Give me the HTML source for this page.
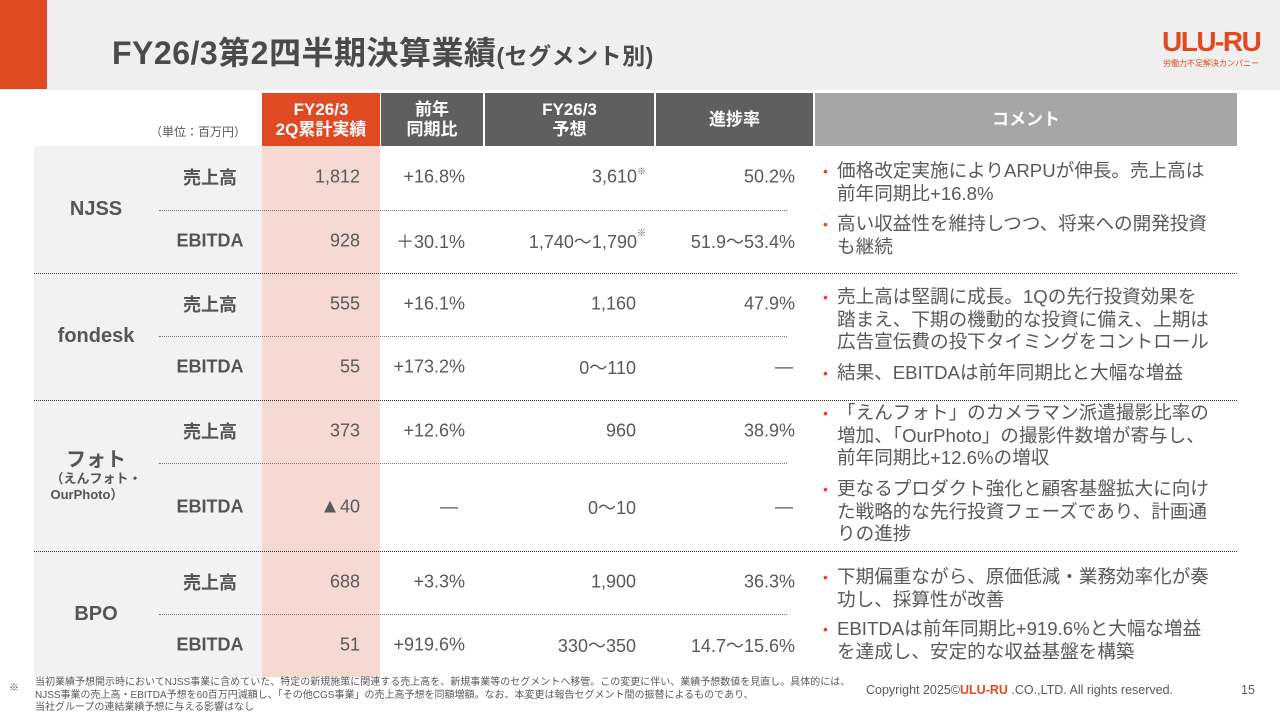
<!DOCTYPE html>
<html><head><meta charset="utf-8">
<style>
*{margin:0;padding:0;box-sizing:border-box}
body{width:1280px;height:720px;position:relative;overflow:hidden;background:#fff;font-family:"Liberation Sans","Noto Sans CJK JP",sans-serif;color:#595959}
.a{position:absolute}
.hd{position:absolute;top:93px;height:53px;color:#fff;font-weight:bold;font-size:17px;line-height:20px;display:flex;align-items:center;justify-content:center;text-align:center}
.seg{position:absolute;left:34px;width:124px;display:flex;flex-direction:column;align-items:center;justify-content:center;font-weight:bold;font-size:20px;color:#555}
.met{position:absolute;left:158px;width:104px;text-align:center;font-weight:bold;font-size:18px;color:#555;transform:translateY(-50%)}
.num{position:absolute;text-align:right;font-size:18px;transform:translateY(-50%);white-space:nowrap}
.cm{position:absolute;left:837px;width:400px;font-size:18.6px;line-height:22.5px;white-space:nowrap}
.cm::before{content:"•";position:absolute;left:-14px;color:#e04a23;font-size:14px}
.dl{position:absolute;height:0;border-top:1.5px dotted #333}
.sl{position:absolute;height:0;border-top:1px dotted #777}
sup{font-size:9px;vertical-align:top;position:relative;top:-2px}
</style></head><body>
<div class="a" style="left:0;top:0;width:1280px;height:90px;background:#efefef"></div>
<div class="a" style="left:0;top:0;width:47px;height:89px;background:#e04a23"></div>
<div class="a" style="left:112px;top:28px;font-size:32px;font-weight:bold;color:#4a4a4a;white-space:nowrap;letter-spacing:0.5px">FY26/3第2四半期決算業績<span style="font-size:23px">(セグメント別)</span></div>
<div class="a" style="left:1162px;top:26px;font-size:28px;font-weight:bold;color:#e04a23;letter-spacing:-1.5px">ULU-RU</div>
<div class="a" style="left:1163px;top:58px;font-size:8px;color:#e04a23">労働力不足解決カンパニー</div>

<div class="a" style="left:150px;top:123px;font-size:12px">（単位：百万円）</div>
<div class="hd" style="left:262px;width:118px;background:#e04a23">FY26/3<br>2Q累計実績</div>
<div class="hd" style="left:381px;width:102px;background:#5f5f5f">前年<br>同期比</div>
<div class="hd" style="left:485px;width:169px;background:#5f5f5f">FY26/3<br>予想</div>
<div class="hd" style="left:656px;width:157px;background:#5f5f5f">進捗率</div>
<div class="hd" style="left:815px;width:422px;background:#a6a6a6">コメント</div>

<div class="a" style="left:34px;top:146px;width:228px;height:531px;background:#f2f2f2"></div>
<div class="a" style="left:262px;top:146px;width:118px;height:531px;background:#f6d9d2"></div>

<div class="seg" style="top:146px;height:127px">NJSS</div>
<div class="seg" style="top:273px;height:127px">fondesk</div>
<div class="seg" style="top:400px;height:151px;line-height:1.1">フォト<span style="font-size:13px;line-height:16px">（えんフォト・<br>OurPhoto）</span></div>
<div class="seg" style="top:551px;height:126px">BPO</div>

<div class="sl" style="left:159px;width:628px;top:210px"></div>
<div class="sl" style="left:159px;width:628px;top:336px"></div>
<div class="sl" style="left:159px;width:628px;top:463px"></div>
<div class="sl" style="left:159px;width:628px;top:614px"></div>
<div class="dl" style="left:34px;width:1203px;top:273px"></div>
<div class="dl" style="left:34px;width:1203px;top:400px"></div>
<div class="dl" style="left:34px;width:1203px;top:551px"></div>

<div class="met" style="top:177px">売上高</div>
<div class="met" style="top:241px">EBITDA</div>
<div class="met" style="top:304px">売上高</div>
<div class="met" style="top:367px">EBITDA</div>
<div class="met" style="top:431px">売上高</div>
<div class="met" style="top:507px">EBITDA</div>
<div class="met" style="top:582px">売上高</div>
<div class="met" style="top:645px">EBITDA</div>

<div class="num" style="right:920px;top:177px">1,812</div>
<div class="num" style="right:920px;top:241px">928</div>
<div class="num" style="right:920px;top:304px">555</div>
<div class="num" style="right:920px;top:367px">55</div>
<div class="num" style="right:920px;top:431px">373</div>
<div class="num" style="right:920px;top:507px"><span style="font-size:20px">▲</span>40</div>
<div class="num" style="right:920px;top:582px">688</div>
<div class="num" style="right:920px;top:645px">51</div>

<div class="num" style="right:815px;top:177px">+16.8%</div>
<div class="num" style="right:815px;top:241px">＋30.1%</div>
<div class="num" style="right:815px;top:304px">+16.1%</div>
<div class="num" style="right:815px;top:367px">+173.2%</div>
<div class="num" style="right:815px;top:431px">+12.6%</div>
<div class="num" style="right:822px;top:507px">―</div>
<div class="num" style="right:815px;top:582px">+3.3%</div>
<div class="num" style="right:815px;top:645px">+919.6%</div>

<div class="num" style="right:634px;top:177px">3,610<sup>※</sup></div>
<div class="num" style="right:634px;top:241px">1,740～1,790<sup>※</sup></div>
<div class="num" style="right:644px;top:304px">1,160</div>
<div class="num" style="right:644px;top:367px">0～110</div>
<div class="num" style="right:644px;top:431px">960</div>
<div class="num" style="right:644px;top:507px">0～10</div>
<div class="num" style="right:644px;top:582px">1,900</div>
<div class="num" style="right:644px;top:645px">330～350</div>

<div class="num" style="right:485px;top:177px">50.2%</div>
<div class="num" style="right:485px;top:241px">51.9～53.4%</div>
<div class="num" style="right:485px;top:304px">47.9%</div>
<div class="num" style="right:487px;top:367px">―</div>
<div class="num" style="right:485px;top:431px">38.9%</div>
<div class="num" style="right:487px;top:507px">―</div>
<div class="num" style="right:485px;top:582px">36.3%</div>
<div class="num" style="right:485px;top:645px">14.7～15.6%</div>

<div class="cm" style="top:160px">価格改定実施によりARPUが伸長。売上高は<br>前年同期比+16.8%</div>
<div class="cm" style="top:213px">高い収益性を維持しつつ、将来への開発投資<br>も継続</div>
<div class="cm" style="top:286px">売上高は堅調に成長。1Qの先行投資効果を<br>踏まえ、下期の機動的な投資に備え、上期は<br>広告宣伝費の投下タイミングをコントロール</div>
<div class="cm" style="top:362px">結果、EBITDAは前年同期比と大幅な増益</div>
<div class="cm" style="top:402px">「えんフォト」のカメラマン派遣撮影比率の<br>増加、「OurPhoto」の撮影件数増が寄与し、<br>前年同期比+12.6%の増収</div>
<div class="cm" style="top:478px">更なるプロダクト強化と顧客基盤拡大に向け<br>た戦略的な先行投資フェーズであり、計画通<br>りの進捗</div>
<div class="cm" style="top:566px">下期偏重ながら、原価低減・業務効率化が奏<br>功し、採算性が改善</div>
<div class="cm" style="top:618px">EBITDAは前年同期比+919.6%と大幅な増益<br>を達成し、安定的な収益基盤を構築</div>

<div class="a" style="left:9px;top:679px;font-size:10px">※</div>
<div class="a" style="left:35px;top:677px;width:820px;font-size:10px;line-height:12.5px">当初業績予想開示時においてNJSS事業に含めていた、特定の新規施策に関連する売上高を、新規事業等のセグメントへ移管。この変更に伴い、業績予想数値を見直し。具体的には、NJSS事業の売上高・EBITDA予想を60百万円減額し、「その他CGS事業」の売上高予想を同額増額。なお、本変更は報告セグメント間の振替によるものであり、<br>当社グループの連結業績予想に与える影響はなし</div>
<div class="a" style="left:866px;top:683px;font-size:12.5px;white-space:nowrap">Copyright 2025©<b style="color:#e04a23">ULU-RU</b> .CO.,LTD. All rights reserved.</div>
<div class="a" style="left:1241px;top:683px;font-size:12.5px">15</div>
</body></html>
